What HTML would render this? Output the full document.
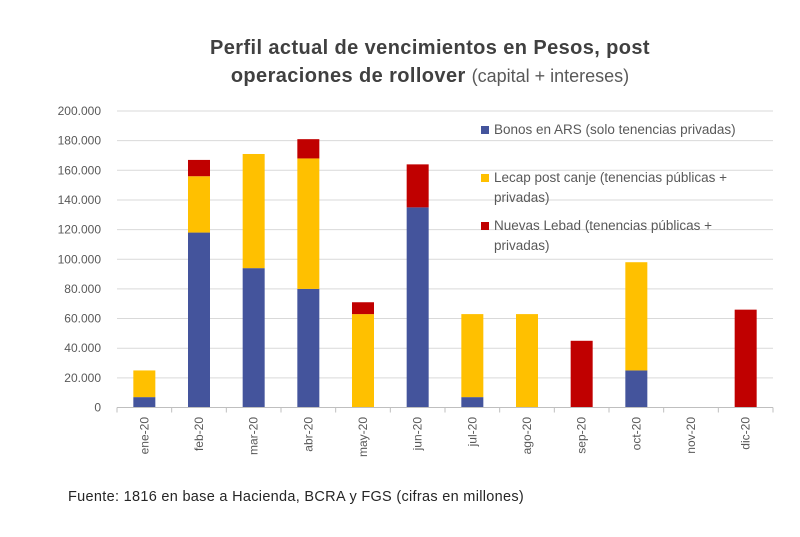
<!DOCTYPE html>
<html><head><meta charset="utf-8"><style>
body{margin:0;background:#fff;}
svg text{font-family:"Liberation Sans",sans-serif;}
</style></head><body>
<svg width="800" height="532" viewBox="0 0 800 532">
<g>
<text x="430" y="54" text-anchor="middle" font-size="20" font-weight="bold" fill="#404040" letter-spacing="0.4">Perfil actual de vencimientos en Pesos, post</text>
<text x="430" y="82" text-anchor="middle" font-size="20" font-weight="bold" fill="#404040" letter-spacing="0.4">operaciones de rollover <tspan font-weight="normal" font-size="18" fill="#595959" letter-spacing="0">(capital + intereses)</tspan></text>
</g>
<g id="grid"></g><g id="yax"></g><g id="bars"></g><g id="xax"></g>
<g font-size="13.5" fill="#595959">
<rect x="481" y="126" width="8" height="8" fill="#44549C"/>
<text x="494" y="134">Bonos en ARS (solo tenencias privadas)</text>
<rect x="481" y="174" width="8" height="8" fill="#FFC000"/>
<text x="494" y="182">Lecap post canje (tenencias públicas +</text>
<text x="494" y="202">privadas)</text>
<rect x="481" y="222" width="8" height="8" fill="#C00000"/>
<text x="494" y="230">Nuevas Lebad (tenencias públicas +</text>
<text x="494" y="250">privadas)</text>
</g>
<text x="68" y="501" font-size="14.5" fill="#262626" letter-spacing="0.3">Fuente: 1816 en base a Hacienda, BCRA y FGS (cifras en millones)</text>
</svg>
<script>
const categories=["ene-20","feb-20","mar-20","abr-20","may-20","jun-20","jul-20","ago-20","sep-20","oct-20","nov-20","dic-20"];
const bonos=[7000,118000,94000,80000,0,135000,7000,0,0,25000,0,0];
const lecap=[18000,38000,77000,88000,63000,0,56000,63000,0,73000,0,0];
const lebad=[0,11000,0,13000,8000,29000,0,0,45000,0,0,66000];
const yTicks=[0,20000,40000,60000,80000,100000,120000,140000,160000,180000,200000];
const yTickLabels=["0","20.000","40.000","60.000","80.000","100.000","120.000","140.000","160.000","180.000","200.000"];
const NS="http://www.w3.org/2000/svg";
const x0=117,x1=773,y0=407.5,yTop=111,yMax=200000;
const step=(x1-x0)/categories.length;
const y=v=>y0-(v/yMax)*(y0-yTop);
const xc=i=>x0+step*(i+0.5);
function mk(t,a,p){const e=document.createElementNS(NS,t);for(const k in a)e.setAttribute(k,a[k]);p.appendChild(e);return e;}
const grid=document.getElementById('grid'),yax=document.getElementById('yax'),bars=document.getElementById('bars'),xax=document.getElementById('xax');
yTicks.forEach((v,i)=>{
 if(i>0){const l=mk('line',{x1:x0,x2:x1,y1:y(v),y2:y(v),stroke:'#d9d9d9','stroke-width':1},grid);
 
 }
 const t=mk('text',{x:101,y:y(v)+4,'text-anchor':'end','font-size':12,fill:'#595959'},yax);
 t.textContent=yTickLabels[i];
 
 
});
const bw=22;
const series=[[bonos,'#44549C','bonos'],[lecap,'#FFC000','lecap'],[lebad,'#C00000','lebad']];
categories.forEach((c,i)=>{
 let base=0;
 series.forEach(([arr,col,nm])=>{
  const v=arr[i]; if(v>0){
   const r=mk('rect',{x:xc(i)-bw/2,y:y(base+v),width:bw,height:y(base)-y(base+v),fill:col},bars);
   
   
  } base+=v;
 });
 const t=mk('text',{transform:`translate(${xc(i)+4},417) rotate(-90)`,'text-anchor':'end','font-size':12,fill:'#595959'},xax);
 t.textContent=c;
 
 
});
const ax=mk('line',{x1:x0,x2:x1,y1:y0,y2:y0,stroke:'#bfbfbf'},xax);


for(let i=0;i<=categories.length;i++){mk('line',{x1:x0+step*i,x2:x0+step*i,y1:y0,y2:y0+5,stroke:'#bfbfbf'},xax);}
</script>
</body></html>
